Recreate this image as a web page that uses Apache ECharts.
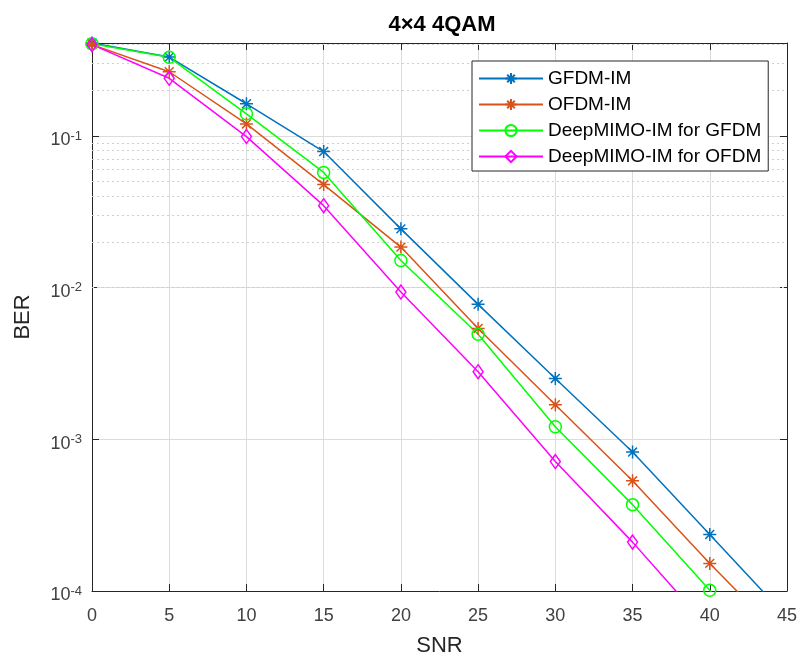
<!DOCTYPE html>
<html>
<head>
<meta charset="utf-8">
<script src="https://cdn.jsdelivr.net/npm/echarts@6/dist/echarts.min.js"></script>
<style>
  html, body { margin: 0; padding: 0; background: #fff; }
  #chart { width: 802px; height: 662px; }
</style>
</head>
<body>
<div id="chart"></div>
<script>
// ---- data ----
const snr = [0, 5, 10, 15, 20, 25, 30, 35, 40, 45];
const gfdmIM   = [0.41, 0.331, 0.163, 0.0789, 0.0244, 0.00776, 0.00252, 0.000824, 0.000236, 0.000067];
const ofdmIM   = [0.40, 0.265, 0.120, 0.0478, 0.0185, 0.00538, 0.00169, 0.000533, 0.000152, 0.000046];
const deepGfdm = [0.405, 0.330, 0.140, 0.0575, 0.0151, 0.00493, 0.00121, 0.000371, 0.000101, 0.000027];
const deepOfdm = [0.40, 0.240, 0.099, 0.0347, 0.00935, 0.00279, 0.000714, 0.000210, 0.000056, 0.000014];
const seriesNames = ['GFDM-IM', 'OFDM-IM', 'DeepMIMO-IM for GFDM', 'DeepMIMO-IM for OFDM'];
const xTicks = [0, 5, 10, 15, 20, 25, 30, 35, 40, 45];
const yDecades = [1e-4, 1e-3, 1e-2, 1e-1];
const minorMultipliers = [2, 3, 4, 5, 6, 7, 8, 9];
const titleText = '4\u00d74 4QAM';

// ---- styles ----
const yMin = 1e-4, yMax = 0.41;
const axisColor = '#262626';
const labelColor = '#404040';
const fontFam = '"Liberation Sans", Arial, Helvetica, sans-serif';
const ASTER = 'path://M5,0L5,10M0,5L10,5M1.6,1.6L8.4,8.4M8.4,1.6L1.6,8.4';
const CIRC = 'path://M0,5A5,5 0 1,0 10,5A5,5 0 1,0 0,5Z';
const DIAM = 'path://M5,0L10,7L5,14L0,7Z';

const minorValues = [];
yDecades.forEach(d => minorMultipliers.forEach(m => { const v = d * m; if (v < yMax) minorValues.push(v); }));

function mk(name, arr, color, symbol, size, transparentFill) {
  return {
    name: name,
    type: 'line',
    data: snr.map((x, i) => [x, arr[i]]),
    symbol: symbol,
    symbolSize: size,
    showAllSymbol: true,
    clip: true,
    z: 3,
    lineStyle: { color: color, width: 1.5 },
    itemStyle: { color: transparentFill ? 'rgba(0,0,0,0)' : color, borderColor: color, borderWidth: 1.5 },
    emphasis: { disabled: true }
  };
}

const chart = echarts.init(document.getElementById('chart'), null, { renderer: 'canvas' });
const option = {
  backgroundColor: '#ffffff',
  animation: false,
  title: {
    text: titleText,
    left: 437, top: 9, textAlign: 'center',
    textStyle: { fontFamily: fontFam, fontSize: 22, fontWeight: 'bold', color: '#000' }
  },
  grid: { left: 92, right: 15, top: 43, bottom: 70, containLabel: false },
  legend: {
    data: seriesNames,
    orient: 'vertical',
    left: 472, top: 61, z: 10,
    itemWidth: 64, itemHeight: 14, itemGap: 7,
    padding: [8, 7, 5, 6],
    backgroundColor: '#ffffff',
    borderColor: axisColor, borderWidth: 1, borderRadius: 0,
    textStyle: { fontFamily: fontFam, fontSize: 19, color: '#000' }
  },
  xAxis: [{
    type: 'value', min: 0, max: 45, interval: 5,
    name: 'SNR', nameLocation: 'middle', nameGap: 44,
    nameTextStyle: { fontFamily: fontFam, fontSize: 22, color: axisColor },
    axisLine: { show: true, lineStyle: { color: axisColor, width: 1 } },
    axisTick: { show: true, inside: true, length: 7, lineStyle: { color: axisColor } },
    axisLabel: { fontFamily: fontFam, fontSize: 18, color: labelColor, margin: 16 },
    splitLine: { show: true, lineStyle: { color: '#dcdcdc', width: 1 } }
  }, {
    type: 'value', min: 0, max: 45, interval: 5, position: 'top',
    axisLine: { show: true, onZero: false, lineStyle: { color: axisColor, width: 1 } },
    axisTick: { show: true, inside: true, length: 7, lineStyle: { color: axisColor } },
    axisLabel: { show: false }, splitLine: { show: false }
  }],
  yAxis: [{
    type: 'log', logBase: 10, min: yMin, max: yMax, splitNumber: 4,
    name: 'BER', nameLocation: 'middle', nameGap: 58,
    nameTextStyle: { fontFamily: fontFam, fontSize: 22, color: axisColor },
    axisLine: { show: true, lineStyle: { color: axisColor, width: 1 } },
    axisTick: { show: true, inside: true, length: 7, lineStyle: { color: axisColor } },
    axisLabel: {
      margin: 10,
      formatter: function (v) {
        const l = Math.log10(v); const e = Math.round(l);
        if (Math.abs(l - e) > 1e-6) return '';
        return '{b|10}{s|' + e + '}';
      },
      rich: {
        b: { fontFamily: fontFam, fontSize: 18, color: labelColor, padding: [9, 0, 0, 0] },
        s: { fontFamily: fontFam, fontSize: 13, color: labelColor }
      }
    },
    splitLine: { show: true, lineStyle: { color: '#dcdcdc', width: 1 } }
  }, {
    type: 'log', logBase: 10, min: yMin, max: yMax, splitNumber: 4, position: 'right',
    axisLine: { show: true, onZero: false, lineStyle: { color: axisColor, width: 1 } },
    axisTick: { show: true, inside: true, length: 7, lineStyle: { color: axisColor } },
    axisLabel: { show: false }, splitLine: { show: false }
  }],
  series: [
    {
      name: 'minor-grid', type: 'line', data: [], z: 1, silent: true,
      markLine: {
        z: 1, silent: true, symbol: ['none', 'none'], animation: false,
        label: { show: false },
        lineStyle: { color: '#cfcfcf', type: [2, 3], width: 1 },
        emphasis: { disabled: true },
        data: minorValues.map(v => ({ yAxis: v }))
      }
    },
    mk(seriesNames[0], gfdmIM, '#0072BD', ASTER, 13, false),
    mk(seriesNames[1], ofdmIM, '#D95319', ASTER, 13, false),
    mk(seriesNames[2], deepGfdm, '#00FF00', CIRC, 12, true),
    mk(seriesNames[3], deepOfdm, '#FF00FF', DIAM, [10, 14], true)
  ]
};
chart.setOption(option);
</script>
</body>
</html>
